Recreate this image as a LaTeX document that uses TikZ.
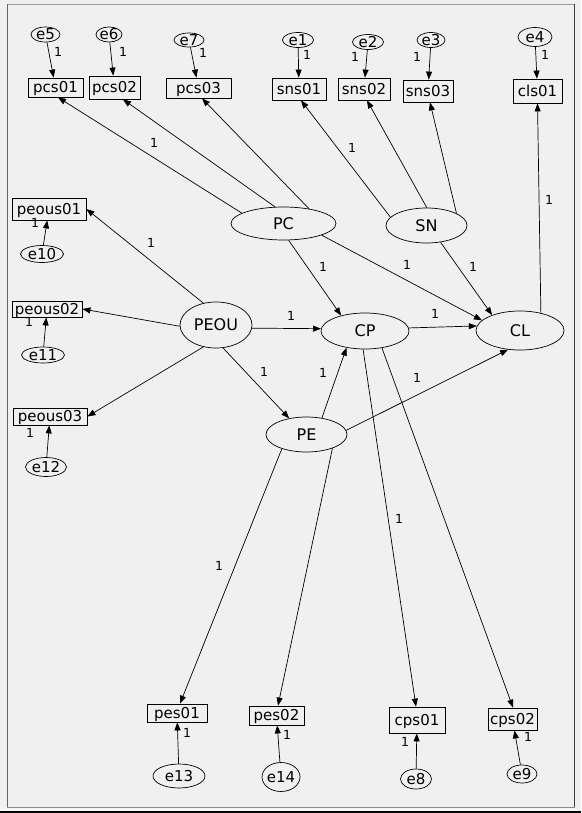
\documentclass[tikz,border=0pt]{standalone}
\usepackage{fontspec}
\setmainfont{DejaVu Sans}
\usetikzlibrary{shapes.geometric,arrows.meta}
\definecolor{bg}{HTML}{F0F0F0}
\begin{document}
\begin{tikzpicture}[x=1pt,y=-1pt,
  obs/.style={draw=black, line width=0.8pt, rectangle, inner sep=0pt,
    font=\fontsize{15}{15}\selectfont, text height=10.9pt, text depth=0pt},
  lat/.style={draw=black, line width=0.7pt, ellipse, inner sep=0pt,
    font=\fontsize{16}{16}\selectfont, text height=11.7pt, text depth=0pt},
  err/.style={draw=black, line width=0.7pt, ellipse, inner xsep=-2pt, inner ysep=-0.5pt,
    font=\fontsize{15}{15}\selectfont, text height=10.9pt, text depth=0pt},
  one/.style={inner sep=0pt, font=\fontsize{12.5}{12.5}\selectfont},
  arr/.style={line width=0.7pt, -{Triangle[length=8pt,width=6pt]}},
]
\useasboundingbox (0,0) rectangle (581,813);
\fill[bg] (0,0) rectangle (581,813);
% frame
\draw[black!40, line width=1pt] (7,4.5) -- (575,4.5);
\draw[black!60, line width=1pt] (7.5,4) -- (7.5,807);
\draw[black!75, line width=1pt] (574.5,4) -- (574.5,807);
\draw[black!45, line width=1pt] (7,807.5) -- (575,807.5);
\draw[white, line width=1.5pt] (0,809.5) -- (581,809.5);
\draw[black, line width=2.5pt] (0,812) -- (581,812);

% observed variables
\node[obs, minimum width=55pt, minimum height=19pt] (pcs01) at (55.5,87.5) {pcs01};
\node[obs, minimum width=51pt, minimum height=23pt] (pcs02) at (114.5,87.5) {pcs02};
\node[obs, minimum width=65pt, minimum height=20pt] (pcs03) at (198.5,88) {pcs03};
\node[obs, minimum width=54pt, minimum height=22pt] (sns01) at (299,89) {sns01};
\node[obs, minimum width=52pt, minimum height=22pt] (sns02) at (364,89) {sns02};
\node[obs, minimum width=50pt, minimum height=22pt] (sns03) at (428,91) {sns03};
\node[obs, minimum width=49pt, minimum height=24pt] (cls01) at (537.5,91) {cls01};
\node[obs, minimum width=74pt, minimum height=22pt] (peous01) at (49,209) {peous01};
\node[obs, minimum width=70pt, minimum height=16pt] (peous02) at (47,309) {peous02};
\node[obs, minimum width=74pt, minimum height=17pt] (peous03) at (50,416.5) {peous03};
\node[obs, minimum width=60pt, minimum height=18pt] (pes01) at (177,713) {pes01};
\node[obs, minimum width=55pt, minimum height=19pt] (pes02) at (276.5,715.5) {pes02};
\node[obs, minimum width=56pt, minimum height=26pt] (cps01) at (417,720) {cps01};
\node[obs, minimum width=49pt, minimum height=22pt] (cps02) at (512.5,719) {cps02};

% error terms
\node[err, minimum width=29pt, minimum height=15pt] (e5) at (45.5,34.5) {e5};
\node[err, minimum width=26pt, minimum height=15pt] (e6) at (109,34.5) {e6};
\node[err, minimum width=30pt, minimum height=14pt] (e7) at (189,40) {e7};
\node[err, minimum width=31pt, minimum height=15pt] (e1) at (298,40) {e1};
\node[err, minimum width=31pt, minimum height=15pt] (e2) at (368,42) {e2};
\node[err, minimum width=28pt, minimum height=15pt] (e3) at (431,40) {e3};
\node[err, minimum width=34pt, minimum height=19pt] (e4) at (535,37) {e4};
\node[err, minimum width=43pt, minimum height=17pt] (e10) at (42,254) {e10};
\node[err, minimum width=43pt, minimum height=16pt] (e11) at (43,355) {e11};
\node[err, minimum width=41pt, minimum height=19pt] (e12) at (46,467) {e12};
\node[err, minimum width=52pt, minimum height=24pt] (e13) at (179,776) {e13};
\node[err, minimum width=38pt, minimum height=29pt] (e14) at (281,777) {e14};
\node[err, minimum width=31pt, minimum height=20pt] (e8) at (416,779) {e8};
\node[err, minimum width=30pt, minimum height=18pt] (e9) at (522,774) {e9};

% latent variables
\node[lat, minimum width=105pt, minimum height=33pt] (PC) at (283.5,223.5) {PC};
\node[lat, minimum width=81pt, minimum height=35pt] (SN) at (426.5,225.5) {SN};
\node[lat, minimum width=72pt, minimum height=46pt] (PEOU) at (216,325) {PEOU};
\node[lat, minimum width=88pt, minimum height=36pt] (CP) at (365,331) {CP};
\node[lat, minimum width=88pt, minimum height=39pt] (CL) at (520,330.5) {CL};
\node[lat, minimum width=81pt, minimum height=35pt] (PE) at (306.5,434.5) {PE};

% error arrows
\draw[arr] (e5) -- (pcs01);
\draw[arr] (e6) -- (pcs02);
\draw[arr] (e7) -- (pcs03);
\draw[arr] (e1) -- (sns01);
\draw[arr] (e2) -- (sns02);
\draw[arr] (e3) -- (sns03);
\draw[arr] (e4) -- (cls01);
\draw[arr] (e10) -- (peous01);
\draw[arr] (e11) -- (peous02);
\draw[arr] (e12) -- (peous03);
\draw[arr] (e13) -- (pes01);
\draw[arr] (e14) -- (pes02);
\draw[arr] (e8) -- (cps01);
\draw[arr] (e9) -- (cps02);

% measurement paths
\draw[arr] (PC.166) -- ([xshift=2.5pt]pcs01.south);
\draw[arr] (PC.117) -- ([xshift=8.5pt]pcs02.south);
\draw[arr] (PC.30) -- ([xshift=3.5pt]pcs03.south);
\draw[arr] (SN.167) -- ([xshift=2pt]sns01.south);
\draw[arr] (SN.89) -- ([xshift=3pt]sns02.south);
\draw[arr] (SN.22) -- ([xshift=2pt]sns03.south);
\draw[arr] (CL.40) -- (cls01.south);
\draw[arr] (PEOU.120) -- (peous01.east);
\draw[arr] (PEOU.182) -- (peous02.east);
\draw[arr] (PEOU.240) -- (peous03.east);
\draw[arr] (PE.210) -- ([xshift=3pt]pes01.north);
\draw[arr] (PE.-28) -- ([xshift=1.5pt]pes02.north);
\draw[arr] (CP.-96) -- ([xshift=-1pt]cps01.north);
\draw[arr] (CP.-45) -- ([xshift=0.5pt]cps02.north);

% structural paths
\draw[arr] (PC.-73) -- (CP.147);
\draw[arr] (PC.-17) -- (CL.165);
\draw[arr] (SN.-50) -- (CL.151);
\draw[arr] (PEOU.-5) -- (CP.177);
\draw[arr] (CP.4) -- (CL.174);
\draw[arr] (PEOU.-73) -- (PE.137);
\draw[arr] (PE.47) -- (CP.222);
\draw[arr] (PE.6) -- (CL.238);

% labels "1"
\node[one] (l1) at (58,52) {1};
\node[one] (l2) at (123,52) {1};
\node[one] (l3) at (203,53) {1};
\node[one] (l4) at (307,55) {1};
\node[one] (l5) at (355,57) {1};
\node[one] (l6) at (417,57) {1};
\node[one] (l7) at (545,55) {1};
\node[one] (l8) at (35,223) {1};
\node[one] (l9) at (29,322) {1};
\node[one] (l10) at (30,433) {1};
\node[one] (l11) at (187,733) {1};
\node[one] (l12) at (287,735) {1};
\node[one] (l13) at (405,742) {1};
\node[one] (l14) at (528,737) {1};
\node[one] (l15) at (154,143) {1};
\node[one] (l16) at (352,148) {1};
\node[one] (l17) at (549,200) {1};
\node[one] (l18) at (151,243) {1};
\node[one] (l19) at (323,267) {1};
\node[one] (l20) at (407,265) {1};
\node[one] (l21) at (473,267) {1};
\node[one] (l22) at (291,316) {1};
\node[one] (l23) at (435,314) {1};
\node[one] (l24) at (264,372) {1};
\node[one] (l25) at (323,373) {1};
\node[one] (l26) at (417,378) {1};
\node[one] (l27) at (219,566) {1};
\node[one] (l28) at (399,519) {1};
\end{tikzpicture}
\end{document}
